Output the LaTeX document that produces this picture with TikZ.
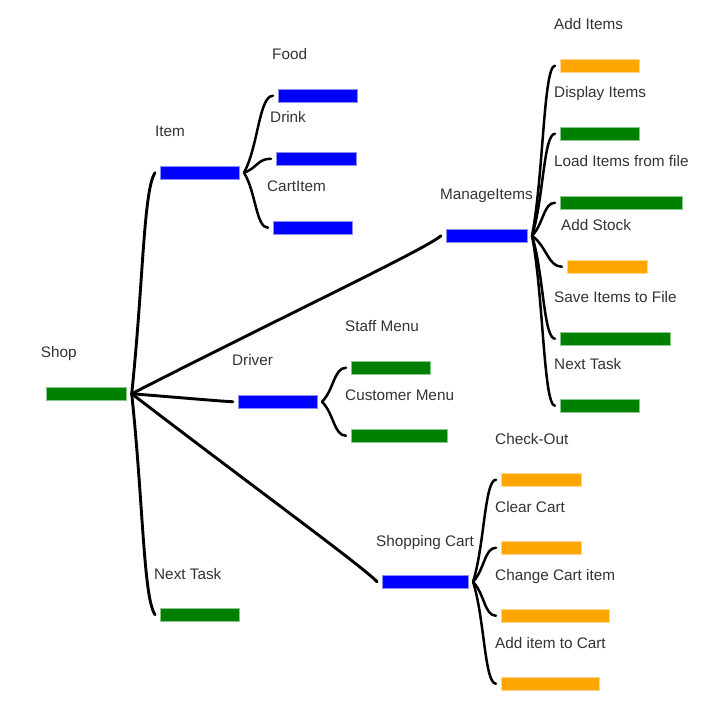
\documentclass[tikz,border=0pt]{standalone}
\usepackage{fontspec}
\setmainfont{Liberation Sans}
\usetikzlibrary{calc}
\definecolor{mblue}{RGB}{0,0,255}
\definecolor{mgreen}{RGB}{0,128,0}
\definecolor{morange}{RGB}{255,165,0}
\definecolor{txt}{RGB}{51,51,51}
\def\cfac{0.35}
\def\efac{0}
\newcommand{\branch}[3][2.5pt]{%
  \draw[conn, line width=#1] let \p1=($(#2.east)+(5,0)$), \p2=($(#3.west)+(-5,0)$) in
    (\p1) .. controls ({\x1+0.5*(\x2-\x1)},{\y1+\cfac*(\y2-\y1)}) and ({\x2-min(14pt,0.5*(\x2-\x1))},{\y2-\efac*(\y2-\y1)}) .. (\p2);}
\begin{document}
\begin{tikzpicture}[x=1pt,y=-1pt,
  bar/.style={rectangle, inner sep=0pt, outer sep=0pt, minimum height=13.5pt, anchor=north west, line width=0.8pt},
  bluebar/.style={bar, fill=mblue, draw=mblue!45!white},
  greenbar/.style={bar, fill=mgreen, draw=mgreen!45!white},
  orangebar/.style={bar, fill=morange, draw=morange!45!white},
  lbl/.style={anchor=base west, inner sep=0pt, text=txt, font=\fontsize{15.3}{18}\selectfont},
  conn/.style={line cap=round, draw=black}]
\fill[white] (0,0) rectangle (720,708);
\useasboundingbox (0,0) rectangle (720,708);

% bars
\node[greenbar, minimum width=80pt] (shop) at (46.7,387) {};
\node[bluebar, minimum width=79pt] (item) at (160,166) {};
\node[bluebar, minimum width=79pt] (food) at (278,89) {};
\node[bluebar, minimum width=80pt] (drink) at (276,152) {};
\node[bluebar, minimum width=79pt] (cartitem) at (273,221) {};
\node[bluebar, minimum width=81pt] (manage) at (446,229) {};
\node[orangebar, minimum width=79pt] (additems) at (560,59) {};
\node[greenbar, minimum width=79pt] (display) at (560,127) {};
\node[greenbar, minimum width=122pt] (load) at (560,196) {};
\node[orangebar, minimum width=80pt] (addstock) at (567,260) {};
\node[greenbar, minimum width=110pt] (save) at (560,332) {};
\node[greenbar, minimum width=79pt] (nextb) at (560,399) {};
\node[bluebar, minimum width=79pt] (driver) at (238,395) {};
\node[greenbar, minimum width=79pt] (staff) at (351,361) {};
\node[greenbar, minimum width=96pt] (customer) at (351,429) {};
\node[bluebar, minimum width=86pt] (cart) at (382,575) {};
\node[orangebar, minimum width=80pt] (checkout) at (501,473) {};
\node[orangebar, minimum width=80pt] (clear) at (501,541) {};
\node[orangebar, minimum width=108pt] (change) at (501,609) {};
\node[orangebar, minimum width=98pt] (additem) at (501,677) {};
\node[greenbar, minimum width=79pt] (nexta) at (160,608) {};

% labels
\node[lbl] (shopL) at ($(shop.north west)+(-6,-29)$) {Shop};
\node[lbl] (itemL) at ($(item.north west)+(-5,-29)$) {Item};
\node[lbl] (foodL) at ($(food.north west)+(-6,-29)$) {Food};
\node[lbl] (drinkL) at ($(drink.north west)+(-6,-29)$) {Drink};
\node[lbl] (cartitemL) at ($(cartitem.north west)+(-6,-29)$) {CartItem};
\node[lbl] (manageL) at ($(manage.north west)+(-6,-29)$) {ManageItems};
\node[lbl] (additemsL) at ($(additems.north west)+(-6,-29)$) {Add Items};
\node[lbl] (displayL) at ($(display.north west)+(-6,-29)$) {Display Items};
\node[lbl] (loadL) at ($(load.north west)+(-6,-29)$) {Load Items from file};
\node[lbl] (addstockL) at ($(addstock.north west)+(-6,-29)$) {Add Stock};
\node[lbl] (saveL) at ($(save.north west)+(-6,-29)$) {Save Items to File};
\node[lbl] (nextbL) at ($(nextb.north west)+(-6,-29)$) {Next Task};
\node[lbl] (driverL) at ($(driver.north west)+(-6,-29)$) {Driver};
\node[lbl] (staffL) at ($(staff.north west)+(-6,-29)$) {Staff Menu};
\node[lbl] (customerL) at ($(customer.north west)+(-6,-29)$) {Customer Menu};
\node[lbl] (cartL) at ($(cart.north west)+(-6,-29)$) {Shopping Cart};
\node[lbl] (checkoutL) at ($(checkout.north west)+(-6,-29)$) {Check-Out};
\node[lbl] (clearL) at ($(clear.north west)+(-6,-29)$) {Clear Cart};
\node[lbl] (changeL) at ($(change.north west)+(-6,-29)$) {Change Cart item};
\node[lbl] (additemL) at ($(additem.north west)+(-6,-29)$) {Add item to Cart};
\node[lbl] (nextaL) at ($(nexta.north west)+(-6,-29)$) {Next Task};

% connectors from the root: almost straight
\def\cfac{0.5}
\def\efac{0.08}
\branch[2.9pt]{shop}{item}
\branch[2.9pt]{shop}{manage}
\branch[2.9pt]{shop}{driver}
\branch[2.9pt]{shop}{cart}
\branch[2.9pt]{shop}{nexta}
% sub-branches: brace-like
\def\cfac{0.35}
\def\efac{0}
\branch{item}{food}
\branch{item}{drink}
\branch{item}{cartitem}
\branch{manage}{additems}
\branch{manage}{display}
\branch{manage}{load}
\branch{manage}{addstock}
\branch{manage}{save}
\branch{manage}{nextb}
\branch{driver}{staff}
\branch{driver}{customer}
\branch{cart}{checkout}
\branch{cart}{clear}
\branch{cart}{change}
\branch{cart}{additem}
\end{tikzpicture}
\end{document}
